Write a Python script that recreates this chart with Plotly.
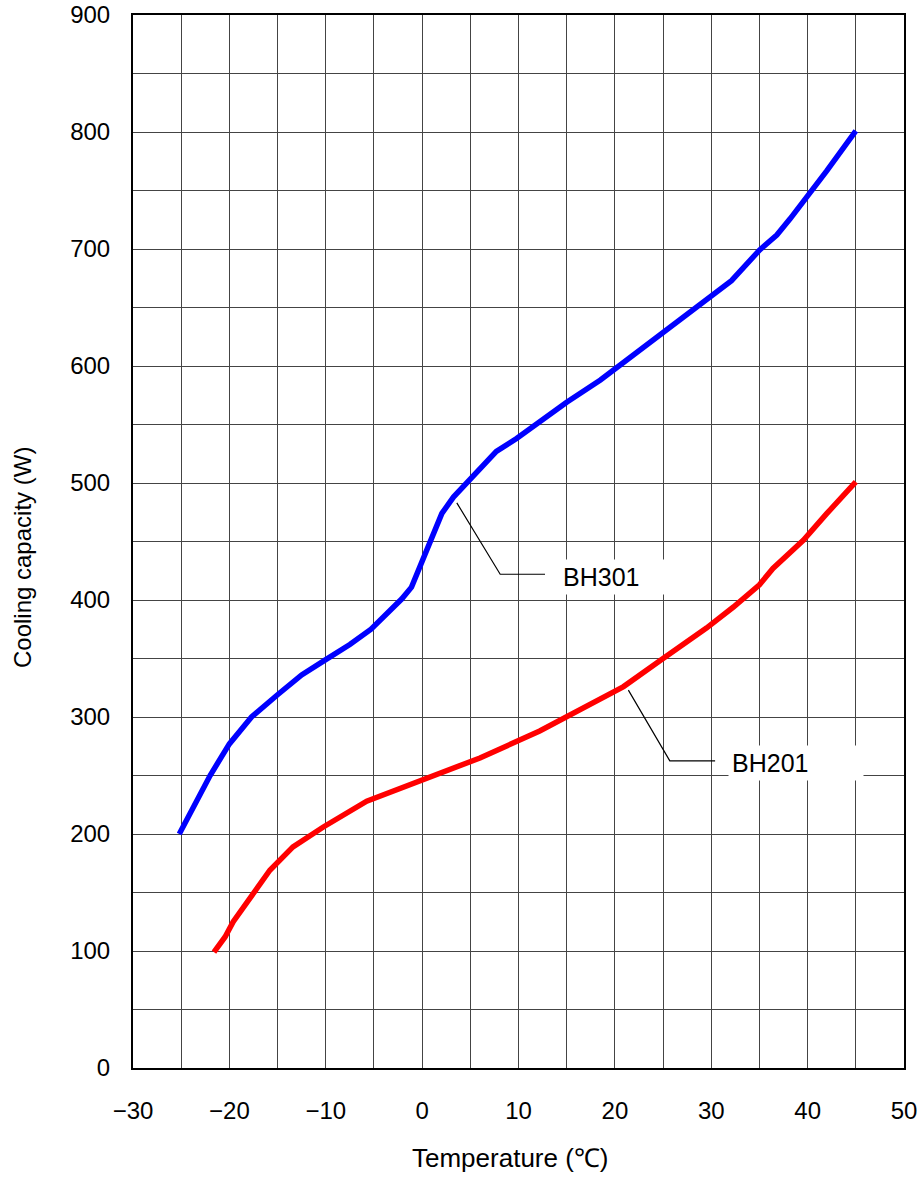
import plotly.graph_objects as go

# ---- data ----
bh301_temp = [-25.2, -22.0, -20.0, -17.7, -15.0, -12.5, -10.0, -7.5, -5.3, -3.5,
              -2.1, -1.1, 0.0, 0.8, 2.05, 3.25, 4.8, 7.7, 9.8, 11.9, 15.0, 18.5,
              22.6, 25.0, 30.0, 32.1, 35.0, 36.8, 38.2, 40.4, 42.0, 45.0]
bh301_cap = [200, 250, 277, 300, 319, 336, 349, 362, 375, 389,
             401, 411, 434, 448, 474, 488, 502, 527, 538, 551, 569, 588,
             614, 628, 661, 673, 699, 712, 726, 749, 767, 801]

bh201_temp = [-21.6, -20.45, -19.6, -17.5, -15.8, -13.4, -10.25, -5.75, 0.1, 5.0,
              6.0, 12.2, 15.0, 18.1, 20.9, 25.0, 29.5, 32.3, 35.0, 36.4,
              39.55, 42.0, 45.0]
bh201_cap = [99, 112, 125, 149, 169, 189, 206, 228, 246, 262,
             265, 288, 300, 313, 326, 350, 376, 394, 413, 427,
             451, 474, 501]

# label leader lines (point on curve -> elbow -> end) and label anchor
bh301_leader_x = [3.6, 8.1, 12.75]
bh301_leader_y = [483, 422, 422]
bh201_leader_x = [21.4, 25.7, 30.4]
bh201_leader_y = [323, 262.5, 262.5]
label_names = ["BH301", "BH201"]
label_x = [14.25, 31.7]
label_y = [420, 261]
label_w = [100, 128]

x_title = "Temperature (℃)"
y_title = "Cooling capacity (W)"

FONT = "Liberation Sans, Arial, sans-serif"

fig = go.Figure()
fig.add_trace(go.Scatter(x=bh301_leader_x, y=bh301_leader_y, mode="lines",
                         line=dict(color="black", width=1.2), hoverinfo="skip"))
fig.add_trace(go.Scatter(x=bh201_leader_x, y=bh201_leader_y, mode="lines",
                         line=dict(color="black", width=1.2), hoverinfo="skip"))
fig.add_trace(go.Scatter(x=bh301_temp, y=bh301_cap, mode="lines", name="BH301",
                         line=dict(color="#0000ff", width=5.5)))
fig.add_trace(go.Scatter(x=bh201_temp, y=bh201_cap, mode="lines", name="BH201",
                         line=dict(color="#ff0000", width=5.5)))

for name, lx, ly, w in zip(label_names, label_x, label_y, label_w):
    fig.add_annotation(x=lx, y=ly, text=name, showarrow=False, xanchor="left",
                       yanchor="middle", align="left", width=w, bgcolor="white",
                       borderpad=3, font=dict(family=FONT, size=25, color="black"))

# axis titles as annotations so they sit where the original has them
fig.add_annotation(x=0.489, y=0, xref="paper", yref="paper", yshift=-90,
                   xanchor="center", yanchor="middle", showarrow=False,
                   text=x_title, font=dict(family=FONT, size=26, color="black"))
fig.add_annotation(x=0, y=0.4843, xref="paper", yref="paper", xshift=-111,
                   xanchor="center", yanchor="middle", showarrow=False, textangle=-90,
                   text=y_title, font=dict(family=FONT, size=24, color="black"))

fig.update_xaxes(range=[-30, 50], dtick=10, tick0=0, showgrid=True,
                 gridcolor="#444", gridwidth=1,
                 minor=dict(dtick=5, showgrid=True, gridcolor="#444", gridwidth=1),
                 showline=True, linecolor="black", linewidth=2, mirror=True,
                 zeroline=False, ticks="", ticklabelstandoff=20, automargin=False,
                 tickfont=dict(family=FONT, size=24, color="black"))
fig.update_yaxes(range=[0, 900], dtick=100, showgrid=True,
                 gridcolor="#444", gridwidth=1,
                 minor=dict(dtick=50, showgrid=True, gridcolor="#444", gridwidth=1),
                 showline=True, linecolor="black", linewidth=2, mirror=True,
                 zeroline=False, ticks="", ticklabelstandoff=16, automargin=False,
                 tickfont=dict(family=FONT, size=24, color="black"))

fig.update_layout(width=924, height=1177, showlegend=False,
                  plot_bgcolor="white", paper_bgcolor="white",
                  margin=dict(l=133, r=20, t=15, b=109, autoexpand=False))

fig.write_html("out.html", config={"displayModeBar": False},
               post_script="document.body.style.margin='0';")
